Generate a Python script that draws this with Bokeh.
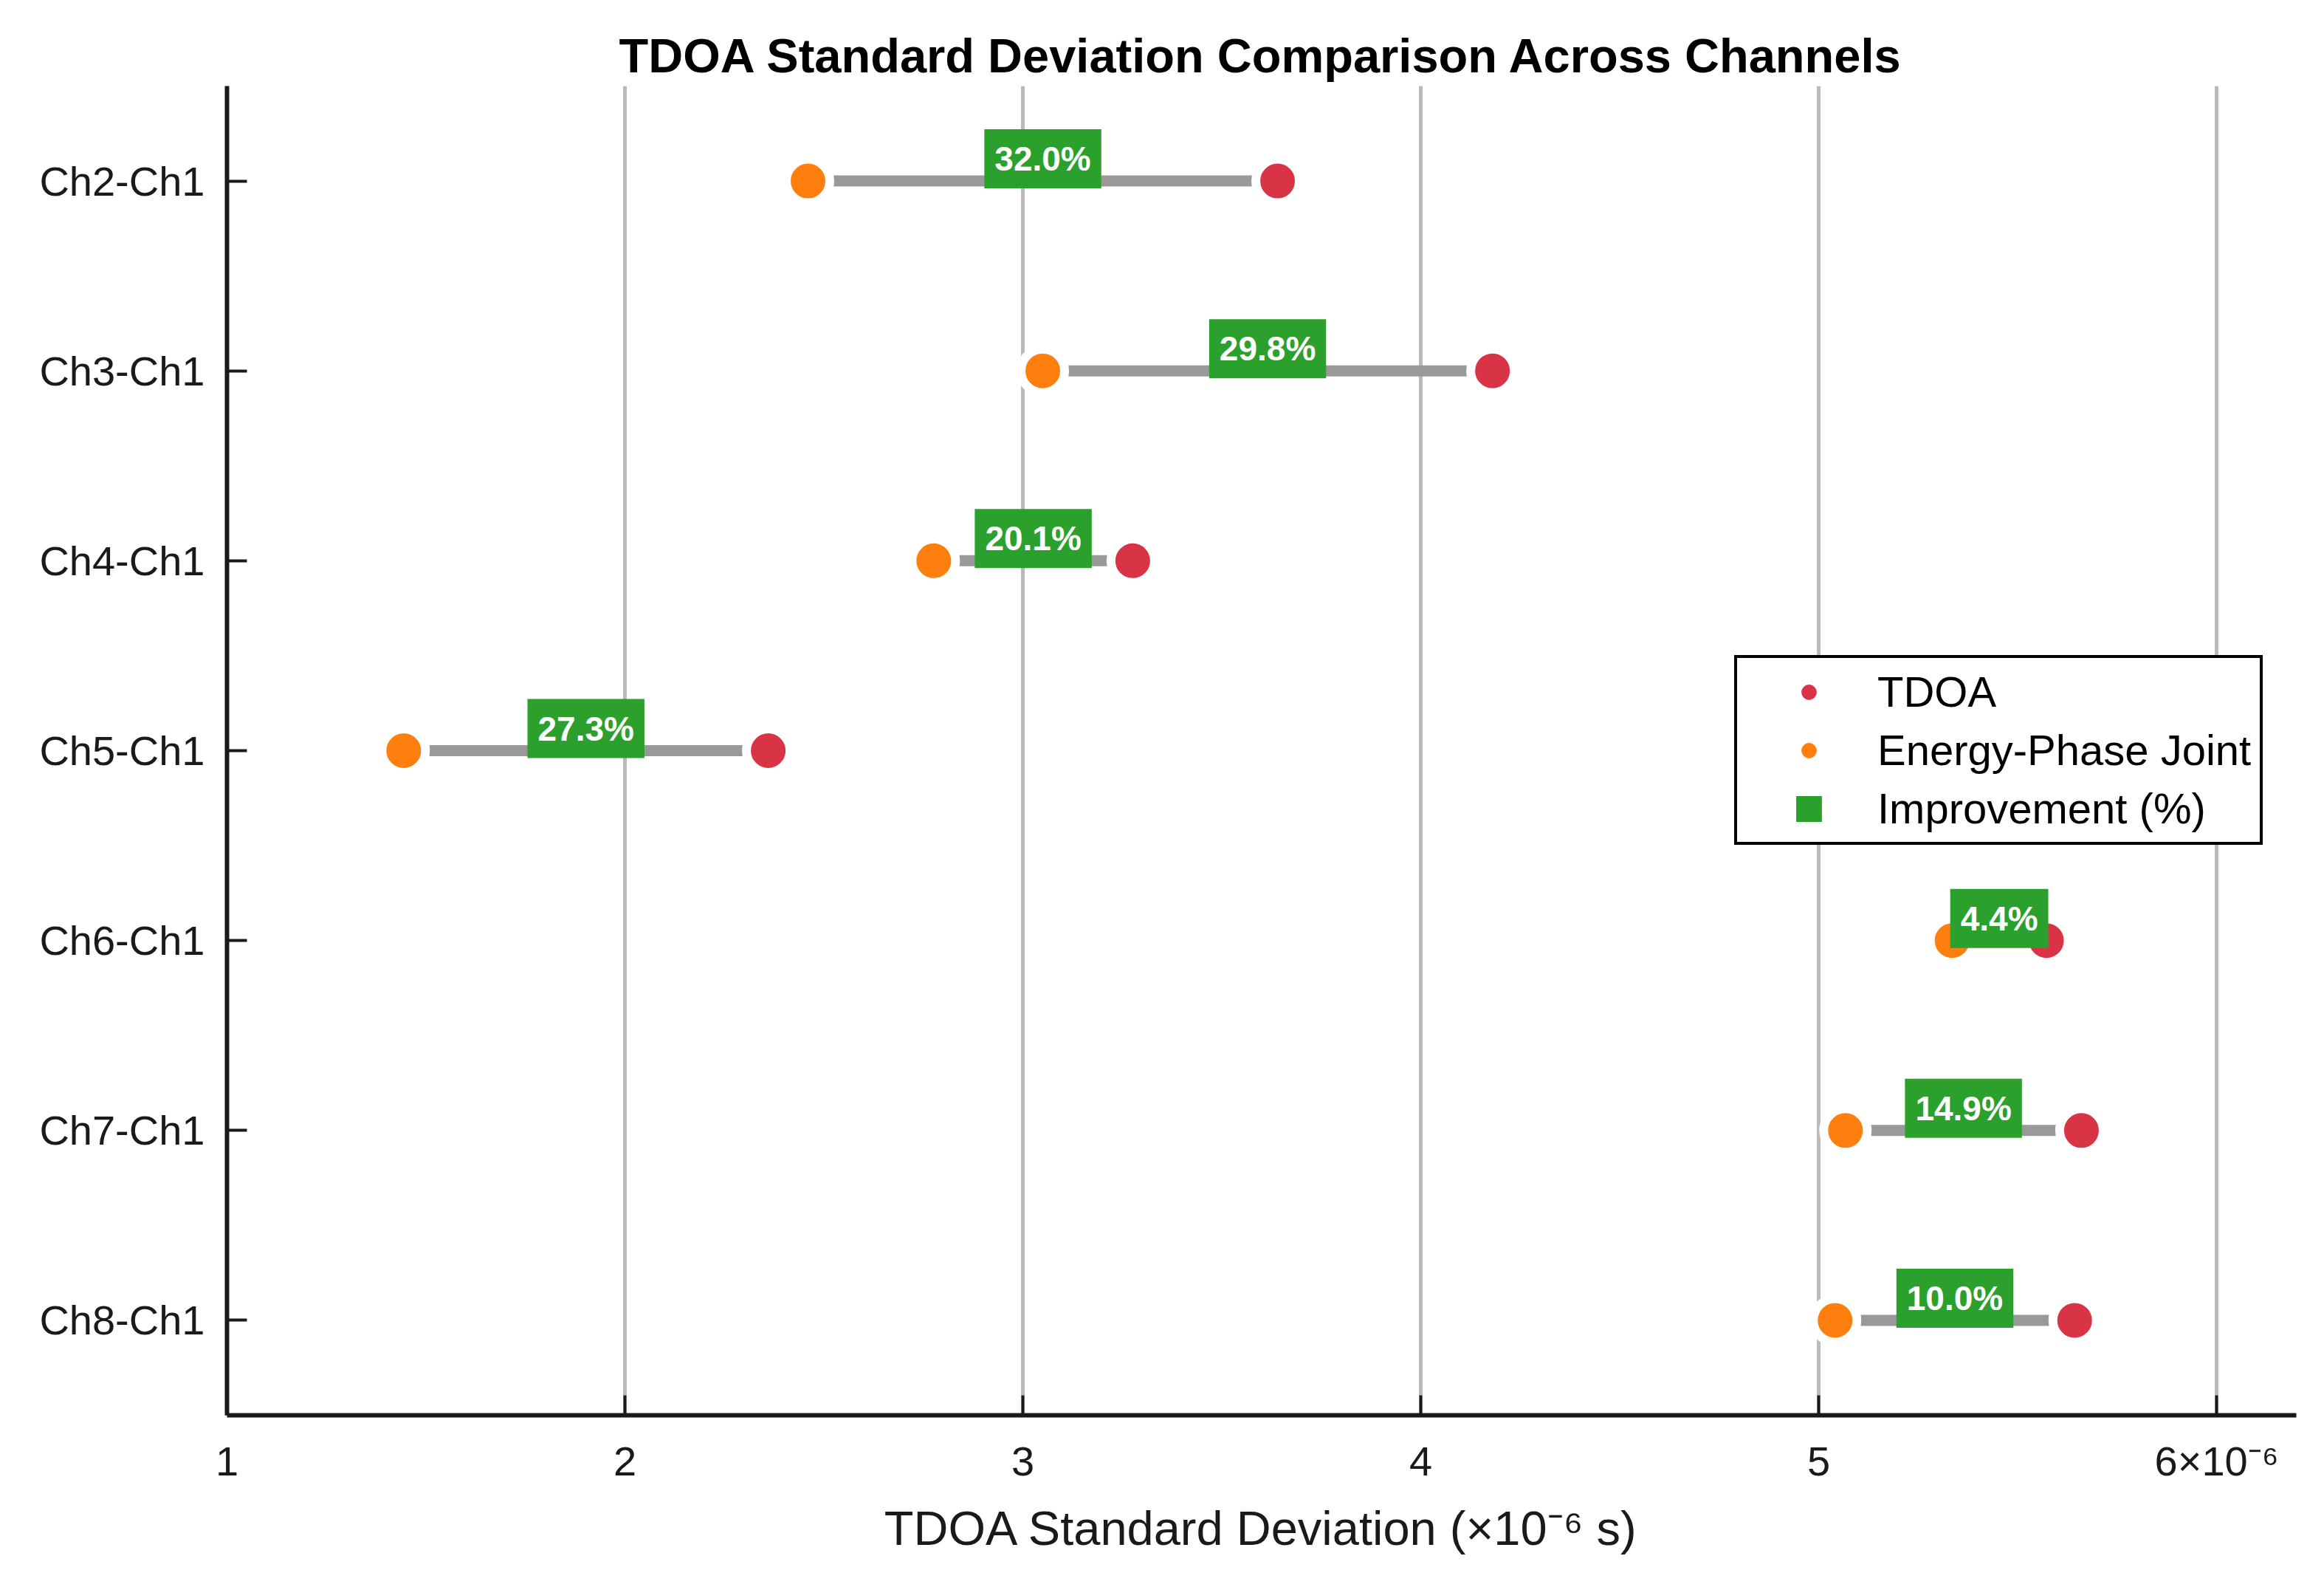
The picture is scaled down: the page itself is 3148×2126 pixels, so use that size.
from bokeh.plotting import figure
from bokeh.models import (ColumnDataSource, FactorRange, Range1d, FixedTicker,
                          Legend, LegendItem)
from bokeh.core.properties import value
from bokeh.embed import file_html
from bokeh.resources import INLINE

# ---- data (values in units of 1e-6 s) ----
channels = ["Ch2-Ch1", "Ch3-Ch1", "Ch4-Ch1", "Ch5-Ch1", "Ch6-Ch1", "Ch7-Ch1", "Ch8-Ch1"]
tdoa = [3.64, 4.18, 3.276, 2.36, 5.572, 5.66, 5.643]
energy_phase = [2.46, 3.05, 2.776, 1.444, 5.335, 5.067, 5.041]
improvement = [32.0, 29.8, 20.1, 27.3, 4.4, 14.9, 10.0]
x_ticks = [1, 2, 3, 4, 5, 6]
x_tick_labels = ["1", "2", "3", "4", "5", "6×10⁻⁶"]

FONT = "Liberation Sans"
RED = "#d93445"
ORANGE = "#ff7f0e"
GREEN = "#2ca02c"

mid = [(a + b) / 2 for a, b in zip(tdoa, energy_phase)]
labels = [f"{v:.1f}%" for v in improvement]

src = ColumnDataSource(dict(ch=channels, tdoa=tdoa, ep=energy_phase,
                            mid=mid, lab=labels))

p = figure(width=3132, height=2110, output_backend="svg", toolbar_location=None,
           y_range=FactorRange(factors=list(reversed(channels)), range_padding=0),
           x_range=Range1d(1, 6.2),
           min_border_left=307, min_border_right=22, min_border_top=116,
           min_border_bottom=194)

p.title.text = "TDOA Standard Deviation Comparison Across Channels"
p.title.text_font = FONT
p.title.text_font_size = "65px"
p.title.text_font_style = "bold"
p.title.align = "center"
p.title.text_color = "black"

p.outline_line_color = None
p.background_fill_color = "white"

# grid
p.ygrid.grid_line_color = None
p.xgrid.grid_line_color = "#bababa"
p.xgrid.grid_line_width = 5

# axes
for ax in (p.xaxis[0], p.yaxis[0]):
    ax.axis_line_color = "#1a1a1a"
    ax.axis_line_width = 6
    ax.major_tick_line_color = "#1a1a1a"
    ax.major_tick_line_width = 4
    ax.major_tick_in = 27
    ax.major_tick_out = 0
    ax.minor_tick_line_color = None
    ax.major_label_text_font = FONT
    ax.major_label_text_font_size = "56px"
    ax.major_label_text_color = "#1a1a1a"
    ax.major_label_standoff = 30

p.xaxis.ticker = FixedTicker(ticks=x_ticks)
p.xaxis.major_label_overrides = {t: l for t, l in zip(x_ticks, x_tick_labels)}
p.xaxis.axis_label = "TDOA Standard Deviation (×10⁻⁶ s)"
p.xaxis.axis_label_text_font = FONT
p.xaxis.axis_label_text_font_size = "65px"
p.xaxis.axis_label_text_font_style = "normal"
p.xaxis.axis_label_text_color = "#1a1a1a"
p.xaxis.axis_label_standoff = 20

# connecting segments
p.segment(x0="ep", y0="ch", x1="tdoa", y1="ch", source=src,
          line_color="#999999", line_width=15)

# markers
p.scatter(x="ep", y="ch", source=src, size=59, fill_color=ORANGE,
          line_color="white", line_width=12)
p.scatter(x="tdoa", y="ch", source=src, size=59, fill_color=RED,
          line_color="white", line_width=12)

# improvement labels
p.text(x="mid", y="ch", text="lab", source=src, y_offset=-30,
       text_font=value(FONT), text_font_style="bold", text_font_size="46px",
       text_color="white", text_align="center", text_baseline="middle",
       background_fill_color=GREEN, padding=14)

# legend proxies (a single non-drawn point each)
nan = float("nan")
proxy = ColumnDataSource(dict(x=[nan], y=[channels[0]]))
r_red = p.scatter(x="x", y="y", source=proxy, marker="circle",
                  fill_color=RED, line_color=None)
r_org = p.scatter(x="x", y="y", source=proxy, marker="circle",
                  fill_color=ORANGE, line_color=None)
r_grn = p.scatter(x="x", y="y", source=proxy, marker="square",
                  fill_color=GREEN, line_color=GREEN, line_width=14,
                  line_join="miter")

legend = Legend(items=[LegendItem(label="TDOA", renderers=[r_red]),
                       LegendItem(label="Energy-Phase Joint", renderers=[r_org]),
                       LegendItem(label="Improvement (%)", renderers=[r_grn])],
                location=(2042, 772))
legend.label_text_font = FONT
legend.label_text_font_size = "58px"
legend.label_text_color = "black"
legend.glyph_width = 170
legend.glyph_height = 52
legend.label_height = 52
legend.label_standoff = 8
legend.padding = 12
legend.spacing = 12
legend.margin = 0
legend.border_line_color = "black"
legend.border_line_alpha = 1
legend.border_line_width = 4
legend.background_fill_color = "white"
legend.background_fill_alpha = 1
p.add_layout(legend, "center")

open("out.html", "w").write(file_html(p, INLINE))
